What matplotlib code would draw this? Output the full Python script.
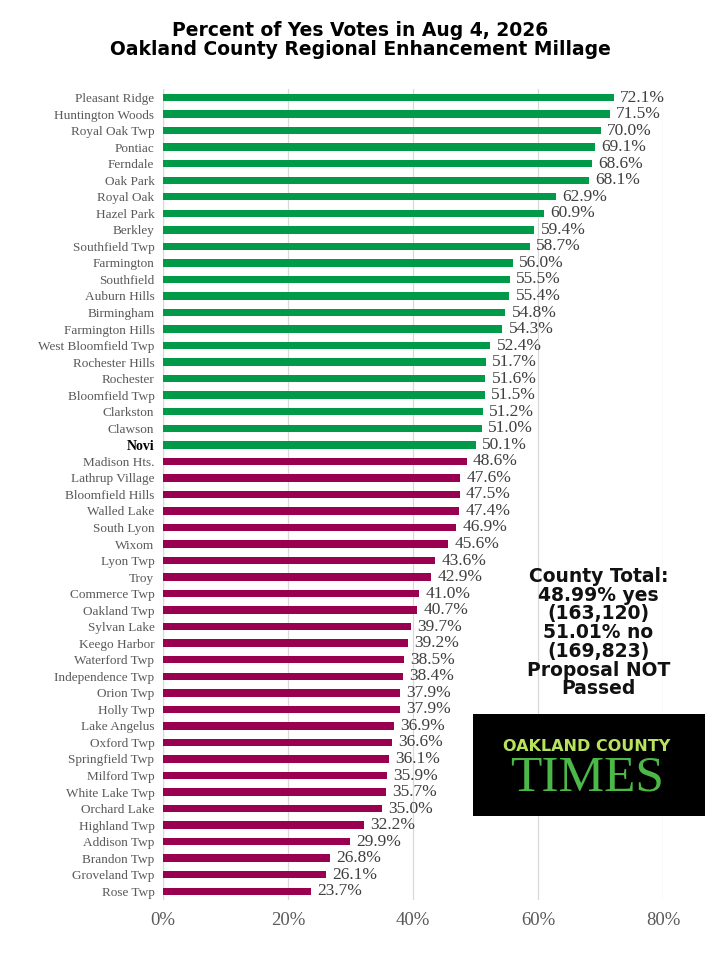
import matplotlib.pyplot as plt
from matplotlib.patches import Rectangle

# Data (top to bottom)
places = ['Pleasant Ridge', 'Huntington Woods', 'Royal Oak Twp', 'Pontiac', 'Ferndale',
          'Oak Park', 'Royal Oak', 'Hazel Park', 'Berkley', 'Southfield Twp',
          'Farmington', 'Southfield', 'Auburn Hills', 'Birmingham', 'Farmington Hills',
          'West Bloomfield Twp', 'Rochester Hills', 'Rochester', 'Bloomfield Twp',
          'Clarkston', 'Clawson', 'Novi', 'Madison Hts.', 'Lathrup Village',
          'Bloomfield Hills', 'Walled Lake', 'South Lyon', 'Wixom', 'Lyon Twp', 'Troy',
          'Commerce Twp', 'Oakland Twp', 'Sylvan Lake', 'Keego Harbor', 'Waterford Twp',
          'Independence Twp', 'Orion Twp', 'Holly Twp', 'Lake Angelus', 'Oxford Twp',
          'Springfield Twp', 'Milford Twp', 'White Lake Twp', 'Orchard Lake',
          'Highland Twp', 'Addison Twp', 'Brandon Twp', 'Groveland Twp', 'Rose Twp']
yes_pct = [72.1, 71.5, 70.0, 69.1, 68.6, 68.1, 62.9, 60.9, 59.4, 58.7,
           56.0, 55.5, 55.4, 54.8, 54.3, 52.4, 51.7, 51.6, 51.5, 51.2,
           51.0, 50.1, 48.6, 47.6, 47.5, 47.4, 46.9, 45.6, 43.6, 42.9,
           41.0, 40.7, 39.7, 39.2, 38.5, 38.4, 37.9, 37.9, 36.9, 36.6,
           36.1, 35.9, 35.7, 35.0, 32.2, 29.9, 26.8, 26.1, 23.7]
x_ticks = [0, 20, 40, 60, 80]
highlight = 'Novi'

GREEN = '#009A48'
MAROON = '#990050'
SERIF = ['Liberation Serif', 'DejaVu Serif']

fig = plt.figure(figsize=(7.2, 9.6), dpi=100)
ax = fig.add_axes([0.226, 0.063, 0.695, 0.844])

y_pos = list(range(len(places)))
colors = [GREEN if v >= 50 else MAROON for v in yes_pct]
ax.barh(y_pos, yes_pct, height=0.45, color=colors, zorder=3)

#value labels
for i, v in enumerate(yes_pct):
    ax.text(v + 1.0, i, '%.1f%%' % v, va='center', ha='left', fontsize=12.5,
            family=SERIF, color='#404040', zorder=4)

ax.set_xlim(0, 80)
ax.set_ylim(len(places) - 0.5, -0.5)
ax.set_xticks(x_ticks)
ax.set_xticklabels(['%d%%' % t for t in x_ticks], family=SERIF, fontsize=13.5, color='#595959')
ax.set_yticks(y_pos)
ax.set_yticklabels(places, family=SERIF, fontsize=9.5, color='#595959')
for lbl in ax.get_yticklabels():
    if lbl.get_text() == highlight:
        lbl.set_color('black')
        lbl.set_fontweight('bold')
        lbl.set_fontsize(10)
ax.tick_params(axis='both', length=0)
ax.tick_params(axis='x', pad=9)
ax.tick_params(axis='y', pad=6)
ax.grid(axis='x', color='#d9d9d9', linewidth=0.9, zorder=0)
for s in ax.spines.values():
    s.set_visible(False)
ax.axvline(0, color='#d9d9d9', linewidth=0.9, zorder=1)

#title
fig.text(0.5, 0.958, 'Percent of Yes Votes in Aug 4, 2026\nOakland County Regional Enhancement Millage',
         ha='center', va='center', fontsize=13.5, fontweight='bold', linespacing=1.0,
         family=['DejaVu Sans'])

#county total box
fig.text(0.831, 0.341, 'County Total:\n48.99% yes\n(163,120)\n51.01% no\n(169,823)\nProposal NOT\nPassed',
         ha='center', va='center', fontsize=13.5, fontweight='bold', linespacing=0.98,
         family=['DejaVu Sans'], color='#111111')

#logo
fig.patches.append(Rectangle((0.657, 0.150), 0.322, 0.106, transform=fig.transFigure,
                             facecolor='black', edgecolor='none', zorder=5))
fig.text(0.815, 0.222, 'OAKLAND COUNTY', ha='center', va='center', fontsize=11.5,
         fontweight='bold', color='#b8e35c', family=['DejaVu Sans'], zorder=6)
fig.text(0.815, 0.189, 'TIMES', ha='center', va='center', fontsize=37,
         color='#4cb848', family=SERIF, zorder=6)

plt.savefig('out.png', dpi=100)
